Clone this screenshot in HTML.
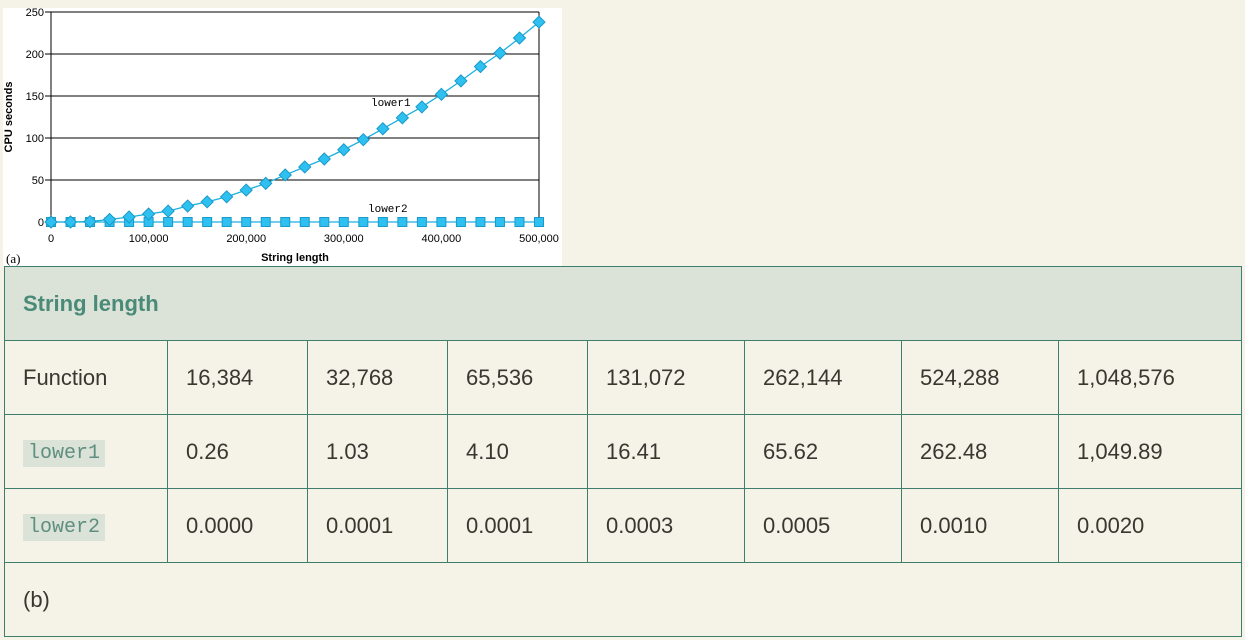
<!DOCTYPE html>
<html><head><meta charset="utf-8"><style>
body{margin:0;width:1245px;height:640px;background:#f5f2e8;position:relative;overflow:hidden;font-family:"Liberation Sans",sans-serif;}
#chart{position:absolute;left:3px;top:8px;}
table{position:absolute;left:4px;top:266px;border-collapse:collapse;table-layout:fixed;color:#3a3630;font-size:22px;}
td{border:1.5px solid #3f7d6c;padding:0 0 0 18px;height:73px;vertical-align:middle;}
tr.hd td{background:#dbe2d7;color:#4a8a78;font-weight:bold;height:73px;}
code{font-family:"Liberation Mono",monospace;background:#dbe2d7;color:#5f8f80;font-size:20px;padding:2px 5px;}
</style></head><body>
<svg id="chart" width="559" height="258" viewBox="3 8 559 258">
<rect x="3" y="8" width="559" height="258" fill="#fff"/>
<g id="g"></g>
<text x="6" y="263" font-family="Liberation Serif,serif" font-size="13">(a)</text>
<text x="295" y="261" text-anchor="middle" font-size="11" font-weight="bold" font-family="Liberation Sans,sans-serif">String length</text>
<text transform="translate(12,117) rotate(-90)" text-anchor="middle" font-size="11" font-weight="bold" font-family="Liberation Sans,sans-serif">CPU seconds</text>
</svg>
<table>
<colgroup><col style="width:163px"><col style="width:140px"><col style="width:140px"><col style="width:140px"><col style="width:157px"><col style="width:157px"><col style="width:157px"><col style="width:183px"></colgroup>
<tr class="hd"><td colspan="8">String length</td></tr>
<tr><td>Function</td><td>16,384</td><td>32,768</td><td>65,536</td><td>131,072</td><td>262,144</td><td>524,288</td><td>1,048,576</td></tr>
<tr><td><code>lower1</code></td><td>0.26</td><td>1.03</td><td>4.10</td><td>16.41</td><td>65.62</td><td>262.48</td><td>1,049.89</td></tr>
<tr><td><code>lower2</code></td><td>0.0000</td><td>0.0001</td><td>0.0001</td><td>0.0003</td><td>0.0005</td><td>0.0010</td><td>0.0020</td></tr>
<tr><td colspan="8">(b)</td></tr>
</table>
<script>
const xCats=[0,20000,40000,60000,80000,100000,120000,140000,160000,180000,200000,220000,240000,260000,280000,300000,320000,340000,360000,380000,400000,420000,440000,460000,480000,500000];
const lower1=[0,0,0.5,3,6,9.5,13,19,24,30,38,46,56,65.5,75,86,98,111,124,137,152,168,185,201,219,238];
const lower2=xCats.map(()=>0);
const yTicks=[0,50,100,150,200,250];
const xTicks=[0,100000,200000,300000,400000,500000];
const xTickLabels=["0","100,000","200,000","300,000","400,000","500,000"];
const X=v=>51+v/500000*488, Y=v=>222-v/250*210;
const NS="http://www.w3.org/2000/svg",g=document.getElementById('g');
function mk(t,a){const e=document.createElementNS(NS,t);for(const k in a)e.setAttribute(k,a[k]);g.appendChild(e);return e;}
yTicks.forEach(t=>{const l=mk('line',{x1:45,x2:539,y1:Y(t),y2:Y(t),stroke:'#000','stroke-width':1});


const tx=mk('text',{x:44,y:Y(t)+4,'text-anchor':'end','font-size':11,'font-family':'Liberation Sans,sans-serif'});tx.textContent=t;

});
xTicks.forEach((t,i)=>{const tx=mk('text',{x:X(t),y:242,'text-anchor':'middle','font-size':11,'font-family':'Liberation Sans,sans-serif'});tx.textContent=xTickLabels[i];

});
const ax=mk('path',{d:`M51 12V${Y(0)+4}M539 12V222`,stroke:'#000',fill:'none'});


[[lower2,'sq'],[lower1,'dm']].forEach(([s,k])=>{
const p=mk('polyline',{points:s.map((v,i)=>X(xCats[i])+','+Y(v)).join(' '),fill:'none',stroke:'#1ab0e0','stroke-width':1.3});


s.forEach((v,i)=>{const x=X(xCats[i]),y=Y(v);let m;
if(k==='sq')m=mk('rect',{x:x-4.5,y:y-4.5,width:9,height:9,fill:'#2ec0f0',stroke:'#1a9ac8'});
else m=mk('polygon',{points:`${x},${y-6} ${x+6},${y} ${x},${y+6} ${x-6},${y}`,fill:'#2ec0f0',stroke:'#1a9ac8'});

});});
[['lower1',371,106],['lower2',368,212]].forEach(([t,x,y])=>{const e=mk('text',{x:x,y:y,'font-size':11,'font-family':'Liberation Mono,monospace'});e.textContent=t;

});
</script>
</body></html>
